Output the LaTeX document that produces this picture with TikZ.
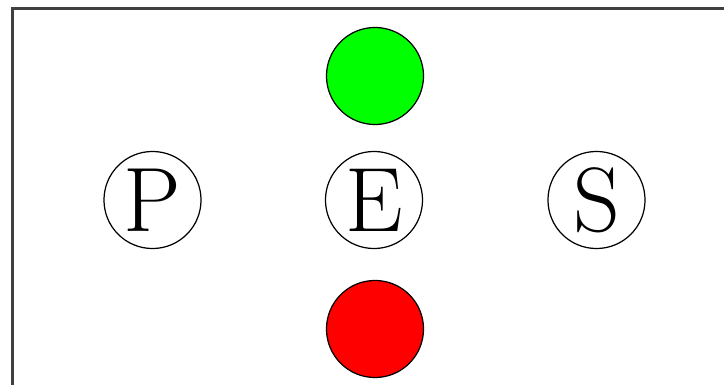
\documentclass[tikz,border=0pt]{standalone}
\begin{document}
\begin{tikzpicture}[x=0.01cm,y=-0.01cm,
    ball/.style={circle, draw=black, line width=0.35pt, minimum size=0.97cm, inner sep=0pt},
    letter/.style={ball, fill=white, font=\fontsize{26}{30}\selectfont}]
            % Canvas
            \useasboundingbox (0,0) rectangle (724,385);

            % Frame (cut off at right and bottom)
            \draw[line width=0.9pt, black!75] (12.5,390) -- (12.5,8.5) -- (730,8.5);

            % Letters in a row
            \node[letter] (P) at (152.5,200) {P};
            \node[letter] (E) at (374,200) {E};
            \node[letter] (S) at (596.5,200) {S};

            % Lights above and below E
            \definecolor{lightgreen}{RGB}{0,255,0}
            \definecolor{lightred}{RGB}{255,0,0}
            \node[ball, fill=lightgreen] (G) at (375,76) {};
            \node[ball, fill=lightred] (R) at (375,329) {};
        \end{tikzpicture}
\end{document}
